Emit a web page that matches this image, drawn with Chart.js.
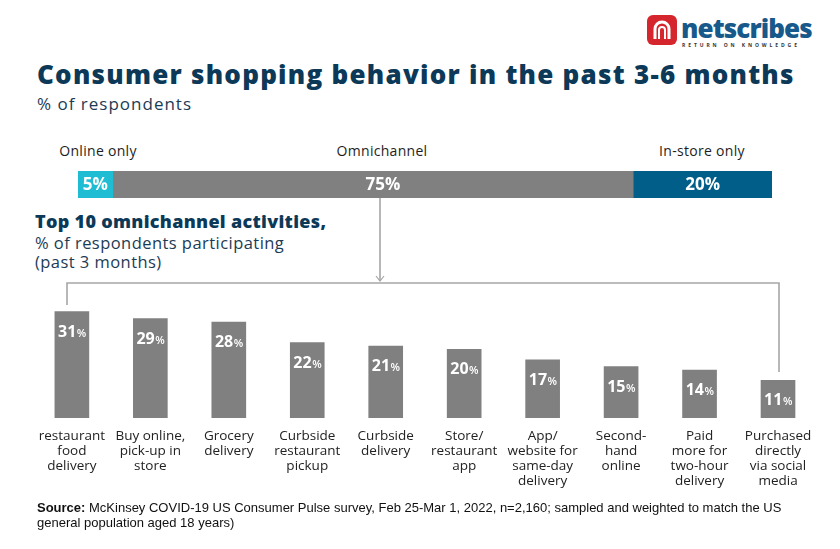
<!DOCTYPE html>
<html><head><meta charset="utf-8">
<script src="https://cdn.jsdelivr.net/npm/chart.js@4.4.0/dist/chart.umd.min.js"></script>
<style>
html,body{margin:0;padding:0;background:#fff;}
#wrap{position:relative;width:840px;height:549px;overflow:hidden;font-family:"Open Sans",sans-serif;background:#fff;}
.abs{position:absolute;white-space:nowrap;}
#title{left:37px;top:56px;font-size:26px;font-weight:800;color:#0c3957;letter-spacing:1.25px;}
#sub{left:37px;top:92px;font-size:17px;color:#1c3b55;letter-spacing:1px;}
.seg{top:141px;font-size:14px;color:#1e1e1e;transform:translateX(-50%);letter-spacing:0.3px;}
#h2{left:35px;top:209px;font-size:18px;font-weight:800;color:#0c3957;letter-spacing:0.3px;}
.h3{left:35px;font-size:16.5px;color:#1c3b55;letter-spacing:0.45px;}
#src{left:37px;top:500px;font-family:"Liberation Sans Narrow","Liberation Sans",sans-serif;font-size:13px;color:#111;line-height:15px;white-space:normal;width:770px;}
#logo{left:647px;top:14px;}
</style></head><body>
<div id="wrap">
  <svg class="abs" id="logo" width="175" height="36" viewBox="0 0 175 36">
    <rect x="0" y="1" width="30" height="30" rx="6" fill="#d4262c"/>
    <path d="M8 25 V15 a7 7 0 0 1 14 0 V25" fill="none" stroke="#fff" stroke-width="3"/>
    <path d="M12 25 V16 a3 3 0 0 1 6 0 V25" fill="none" stroke="#fff" stroke-width="2"/>
    <text x="34" y="24" font-family="Open Sans" font-weight="800" font-size="26" fill="#17598a" letter-spacing="-0.9">netscribes</text>
    <text x="35" y="33" font-family="Open Sans" font-weight="700" font-size="5" fill="#333" letter-spacing="2.9">RETURN ON KNOWLEDGE</text>
  </svg>
  <div class="abs" id="title">Consumer shopping behavior in the past 3-6 months</div>
  <div class="abs" id="sub">% of respondents</div>
  <div id="segnames"></div>
  <div style="position:absolute;left:78px;top:171px;width:694px;height:27px;"><canvas id="top"></canvas></div>
  <div class="abs" id="h2">Top 10 omnichannel activities,</div>
  <div class="abs h3" style="top:231px;">% of respondents participating</div>
  <div class="abs h3" style="top:250px;">(past 3 months)</div>
  <svg class="abs" style="left:0;top:0;" width="840" height="549">
    <g stroke="#a6a6a6" stroke-width="1.6" fill="none">
      <line x1="380" y1="198" x2="380" y2="281"/>
      <polyline points="376,276 380,281 384,276" stroke-width="1.2"/>
      <polyline points="67,305 67,283 779,283 779,372"/>
    </g>
  </svg>
  <div style="position:absolute;left:28px;top:300px;width:794px;height:200px;"><canvas id="bot"></canvas></div>
  <div class="abs" id="src"><b>Source:</b> McKinsey COVID-19 US Consumer Pulse survey, Feb 25-Mar 1, 2022, n=2,160; sampled and weighted to match the US general population aged 18 years)</div>
</div>
<script>
const segmentLabels = ['Online only', 'Omnichannel', 'In-store only'];
const segmentValues = [5, 75, 20];
const activityLabels = [
  ['restaurant','food','delivery'],
  ['Buy online,','pick-up in','store'],
  ['Grocery','delivery'],
  ['Curbside','restaurant','pickup'],
  ['Curbside','delivery'],
  ['Store/','restaurant','app'],
  ['App/','website for','same-day','delivery'],
  ['Second-','hand','online'],
  ['Paid','more for','two-hour','delivery'],
  ['Purchased','directly','via social','media']
];
const activityValues = [31, 29, 28, 22, 21, 20, 17, 15, 14, 11];

const segColors = ['#1fbdd3', '#808080', '#015e88'];
const segNameX = [98, 382, 702];
const segLabelShift = [0, 10, 0];

const sn = document.getElementById('segnames');
segmentLabels.forEach((t, i) => {
  const d = document.createElement('div');
  d.className = 'abs seg';
  d.style.left = segNameX[i] + 'px';
  d.textContent = t;
  sn.appendChild(d);
});

Chart.defaults.font.family = '"Open Sans", sans-serif';

const topLabelPlugin = {
  id: 'topLabels',
  afterDatasetsDraw(chart) {
    const ctx = chart.ctx;
    ctx.save();
    ctx.fillStyle = '#fff';
    ctx.font = '700 17px "Open Sans"';
    ctx.textAlign = 'center';
    ctx.textBaseline = 'middle';
    chart.data.datasets.forEach((ds, i) => {
      const el = chart.getDatasetMeta(i).data[0];
      const cx = (el.x + el.base) / 2 + segLabelShift[i];
      ctx.fillText(ds.data[0] + '%', cx, el.y + 1);
    });
    ctx.restore();
  }
};

new Chart(document.getElementById('top'), {
  type: 'bar',
  data: {
    labels: [''],
    datasets: segmentLabels.map((l, i) => ({
      label: l, data: [segmentValues[i]], backgroundColor: segColors[i],
      borderWidth: 0, barPercentage: 1, categoryPercentage: 1
    }))
  },
  options: {
    indexAxis: 'y', responsive: true, maintainAspectRatio: false, animation: false,
    layout: { padding: 0 },
    plugins: { legend: { display: false }, tooltip: { enabled: false } },
    scales: {
      x: { stacked: true, min: 0, max: 100, display: false },
      y: { stacked: true, display: false }
    }
  },
  plugins: [topLabelPlugin]
});

const barLabelPlugin = {
  id: 'barLabels',
  afterDatasetsDraw(chart) {
    const ctx = chart.ctx;
    const meta = chart.getDatasetMeta(0);
    ctx.save();
    ctx.fillStyle = '#fff';
    ctx.textBaseline = 'alphabetic';
    ctx.textAlign = 'left';
    meta.data.forEach((el, i) => {
      const num = String(chart.data.datasets[0].data[i]);
      ctx.font = '700 16px "Open Sans"';
      const w1 = ctx.measureText(num).width;
      ctx.font = '600 11px "Open Sans"';
      const w2 = ctx.measureText('%').width;
      const x0 = el.x - (w1 + w2) / 2;
      const y = el.y + 25;
      ctx.font = '700 16px "Open Sans"';
      ctx.fillText(num, x0, y);
      ctx.font = '600 11px "Open Sans"';
      ctx.fillText('%', x0 + w1 + 0.5, y);
    });
    ctx.restore();
  }
};

new Chart(document.getElementById('bot'), {
  type: 'bar',
  data: {
    labels: activityLabels,
    datasets: [{ data: activityValues, backgroundColor: '#808080', borderWidth: 0, barThickness: 34 }]
  },
  options: {
    responsive: true, maintainAspectRatio: false, animation: false,
    layout: { padding: 0 },
    plugins: { legend: { display: false }, tooltip: { enabled: false } },
    scales: {
      x: {
        grid: { display: false, drawTicks: false },
        border: { display: false },
        ticks: {
          autoSkip: false, maxRotation: 0, minRotation: 0, padding: 11,
          color: '#222', font: { size: 13.5, lineHeight: 1.11 }
        }
      },
      y: { display: false, min: 0, max: 34.4 }
    }
  },
  plugins: [barLabelPlugin]
});
</script>
</body></html>
